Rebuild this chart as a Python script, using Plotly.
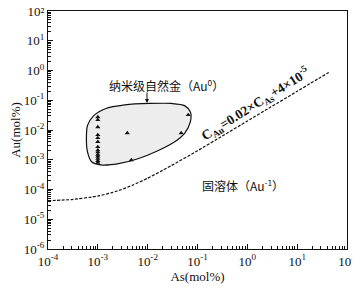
import plotly.graph_objects as go

# ---- data ----
# samples at As = 1e-3 mol%
col_x = [1e-3] * 14
col_y = [0.0273, 0.0217, 0.0126, 0.0068, 0.0054, 0.0040, 0.0027, 0.0021,
         0.0018, 0.0015, 0.0013, 0.0011, 0.00092, 0.00080]
# other samples
pt_x = [3.9e-3, 0.047, 4.7e-3, 0.065]
pt_y = [7.9e-3, 7.9e-3, 9.8e-4, 0.032]

# boundary line C_Au = 0.02*C_As + 4e-5
line_x = [1e-4, 3e-4, 1e-3, 2e-3, 3e-3, 5e-3, 1e-2, 2e-2, 3e-2, 1e-1, 3e-1, 1, 3, 10, 43]
line_y = [4.2e-5, 4.6e-5, 6.0e-5, 8.0e-5, 1.0e-4, 1.4e-4, 2.4e-4, 4.4e-4, 6.4e-4,
          2.0e-3, 6.0e-3, 2.0e-2, 6.0e-2, 2.0e-1, 8.6e-1]

# outline of nano native gold field
blob_x = [5.9e-4, 6.2e-4, 8.2e-4, 1.42e-3, 3.5e-3, 1.1e-2, 3.0e-2, 5.5e-2,
          7.2e-2, 7.2e-2, 5.6e-2, 3.5e-2, 1.6e-2, 6.4e-3, 2.6e-3, 1.15e-3,
          7.5e-4, 6.2e-4, 5.9e-4]
blob_y = [4.6e-3, 1.42e-2, 3.0e-2, 5.2e-2, 7.0e-2, 7.8e-2, 7.8e-2, 6.6e-2,
          4.0e-2, 1.9e-2, 8.0e-3, 4.0e-3, 2.0e-3, 1.08e-3, 7.4e-4, 6.7e-4,
          8.6e-4, 1.85e-3, 4.6e-3]

x_exp = [-4, -3, -2, -1, 0, 1, 2]
y_exp = [-6, -5, -4, -3, -2, -1, 0, 1, 2]
x_ticktext = ["10<sup>%d</sup>" % e for e in x_exp]
# top label uses a plain superscript glyph so it stays inside the page
y_ticktext = ["10<sup>%d</sup>" % e for e in y_exp[:-1]] + ["10²"]

# page body has an 8px margin, so the figure is sized to the remaining view
W, H = 352, 282
L, R, T, B = 40, 13, 3, 41

# reference pixel -> log data coords (plot area 48..347 x 11..249 in window)
def lx(px):
    return -4 + (px - 48) / (299 / 6.0)
def ly(py):
    return 2 - (py - 11) / (238 / 8.0)

def minor_vals(exps):
    return [m * 10.0 ** e for e in exps[:-1] for m in range(2, 10)]

fig = go.Figure()
fig.add_trace(go.Scatter(x=blob_x, y=blob_y, mode="lines", fill="toself",
                         fillcolor="#ededed", line=dict(color="#111", width=1.2, shape="spline", smoothing=0.8),
                         hoverinfo="skip", showlegend=False))
fig.add_trace(go.Scatter(x=line_x, y=line_y, mode="lines",
                         line=dict(color="#111", width=1.2, dash="3px,1.5px", shape="spline", smoothing=0.5),
                         showlegend=False))
fig.add_trace(go.Scatter(x=col_x + pt_x, y=col_y + pt_y, mode="markers",
                         marker=dict(symbol="triangle-up", size=4.5, color="#111"),
                         showlegend=False))

serif = "Liberation Serif, Times New Roman, serif"
cjk = "Noto Sans CJK SC"

fig.add_annotation(x=lx(166), y=ly(85), xref="x", yref="y", showarrow=False,
                   text="纳米级自然金（Au<sup>0</sup>）", font=dict(family=cjk, size=12, color="#111"))
fig.add_annotation(x=lx(147), y=ly(103), xref="x", yref="y", text="", showarrow=True,
                   ax=0, ay=-12, arrowhead=2, arrowsize=0.8, arrowwidth=1, arrowcolor="#111")
fig.add_annotation(x=lx(243), y=ly(185), xref="x", yref="y", showarrow=False,
                   text="固溶体（Au<sup>-1</sup>）", font=dict(family=cjk, size=12, color="#111"))
fig.add_annotation(x=lx(255), y=ly(104), xref="x", yref="y", showarrow=False, textangle=-32,
                   text="<b>C<sub>Au</sub>=0.02×C<sub>As</sub>+4×10<sup>-5</sup></b>",
                   font=dict(family=serif, size=13.5, color="#111"))

def axis_common(exps, ticktext):
    return dict(type="log", tickmode="array",
                tickvals=[10.0 ** e for e in exps],
                ticktext=ticktext,
                showgrid=False, zeroline=False, automargin=False,
                ticklabeloverflow="allow",
                showline=True, linecolor="#111", linewidth=1, mirror=True,
                ticks="inside", ticklen=5, tickcolor="#111",
                minor=dict(tickmode="array", tickvals=minor_vals(exps), ticks="inside",
                           ticklen=3, tickcolor="#111", showgrid=False),
                tickfont=dict(family=serif, size=13, color="#111"))

fig.update_xaxes(range=[-4, 2], title=dict(text="As(mol%)", font=dict(family=serif, size=13, color="#111"), standoff=0),
                 **axis_common(x_exp, x_ticktext))
fig.update_yaxes(range=[-6, 2], title=dict(text="Au(mol%)", font=dict(family=serif, size=13, color="#111"), standoff=2),
                 **axis_common(y_exp, y_ticktext))
fig.update_layout(width=W, height=H, margin=dict(l=L, r=R, t=T, b=B),
                  plot_bgcolor="white", paper_bgcolor="white")
fig.write_html("out.html")
